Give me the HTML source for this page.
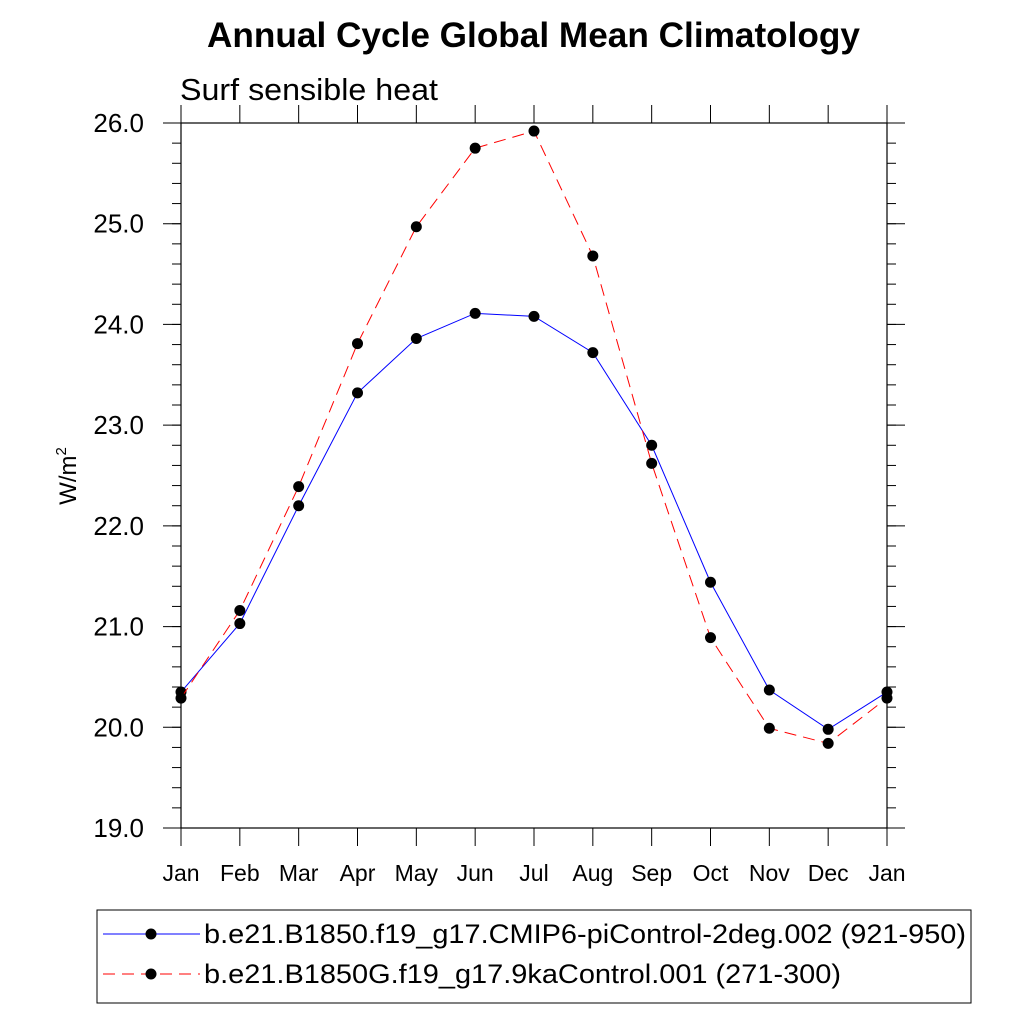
<!DOCTYPE html>
<html><head><meta charset="utf-8"><style>
body{margin:0;background:#fff;width:1024px;height:1024px;overflow:hidden}
svg{font-family:"Liberation Sans",sans-serif}
</style></head><body>
<svg width="1024" height="1024" id="chart">
<text x="207" y="47" textLength="653" lengthAdjust="spacingAndGlyphs" font-size="35" font-weight="bold">Annual Cycle Global Mean Climatology</text>
<text x="180" y="100" textLength="258" lengthAdjust="spacingAndGlyphs" font-size="31">Surf sensible heat</text>
<text transform="translate(76,476) rotate(-90)" text-anchor="middle" font-size="24">W/m<tspan dy="-10" font-size="15">2</tspan></text>
<g id="axes"></g>
<g id="series"></g>
<rect x="97" y="910" width="874" height="93" fill="none" stroke="#000" stroke-width="1"/>
<g>
<line x1="103" y1="934" x2="200" y2="934" stroke="#0000ff" stroke-width="1"/>
<circle cx="151" cy="934" r="5.5" fill="#000"/>
<text x="204" y="943" textLength="762" lengthAdjust="spacingAndGlyphs" font-size="27">b.e21.B1850.f19_g17.CMIP6-piControl-2deg.002 (921-950)</text>
</g>
<g>
<line x1="103" y1="974" x2="200" y2="974" stroke="#ff0000" stroke-width="1" stroke-dasharray="12,7"/>
<circle cx="151" cy="974" r="5.5" fill="#000"/>
<text x="204" y="983" textLength="637" lengthAdjust="spacingAndGlyphs" font-size="27">b.e21.B1850G.f19_g17.9kaControl.001 (271-300)</text>
</g>
</svg>
<script>
const months=["Jan","Feb","Mar","Apr","May","Jun","Jul","Aug","Sep","Oct","Nov","Dec","Jan"];
const yTicks=[19,20,21,22,23,24,25,26];
const controlValues=[20.35,21.03,22.20,23.32,23.86,24.11,24.08,23.72,22.80,21.44,20.37,19.98,20.35];
const kaValues=[20.29,21.16,22.39,23.81,24.97,25.75,25.92,24.68,22.62,20.89,19.99,19.84,20.29];
const L=181,R=887,T=123,B=828,ymin=19,ymax=26;
const xs=i=>L+(R-L)*i/12;
const ys=v=>B-(v-ymin)/(ymax-ymin)*(B-T);
const NS="http://www.w3.org/2000/svg";
function mk(tag,attrs,parent){const e=document.createElementNS(NS,tag);for(const k in attrs)e.setAttribute(k,attrs[k]);parent.appendChild(e);return e;}
const ax=document.getElementById('axes');
const frame=mk('rect',{x:L,y:T,width:R-L,height:B-T,fill:'none',stroke:'#000','stroke-width':1.2},ax);


months.forEach((m,i)=>{
 const x=xs(i);
 mk('line',{x1:x,y1:B,x2:x,y2:B+18,stroke:'#000','stroke-width':1},ax);
 mk('line',{x1:x,y1:T,x2:x,y2:T-18,stroke:'#000','stroke-width':1},ax);
 const t=mk('text',{x:x,y:B+53,'text-anchor':'middle','font-size':23},ax);
 t.textContent=m;
 
 
});
for(let v=ymin;v<=ymax+1e-9;v+=0.2){
 const y=ys(v);
 mk('line',{x1:L,y1:y,x2:L-9,y2:y,stroke:'#000','stroke-width':1},ax);
 mk('line',{x1:R,y1:y,x2:R+9,y2:y,stroke:'#000','stroke-width':1},ax);
}
yTicks.forEach(v=>{
 const y=ys(v);
 mk('line',{x1:L,y1:y,x2:L-18,y2:y,stroke:'#000','stroke-width':1},ax);
 mk('line',{x1:R,y1:y,x2:R+18,y2:y,stroke:'#000','stroke-width':1},ax);
 const t=mk('text',{x:L-37,y:y+9,'text-anchor':'end','font-size':26},ax);
 t.textContent=v.toFixed(1);
 
 
});
const sg=document.getElementById('series');
function series(vals,color,dash,name){
 const g=mk('g',{},sg);
 
 
 const p=mk('polyline',{points:vals.map((v,i)=>xs(i)+','+ys(v)).join(' '),fill:'none',stroke:color,'stroke-width':1,'stroke-dasharray':dash},g);
 
 
 vals.forEach((v,i)=>{
  const c=mk('circle',{cx:xs(i),cy:ys(v),r:5.5,fill:'#000'},g);
  
  
 });
}
series(controlValues,'#0000ff','none','control-series');
series(kaValues,'#ff0000','12,7','ka-series');
</script>
</body></html>
